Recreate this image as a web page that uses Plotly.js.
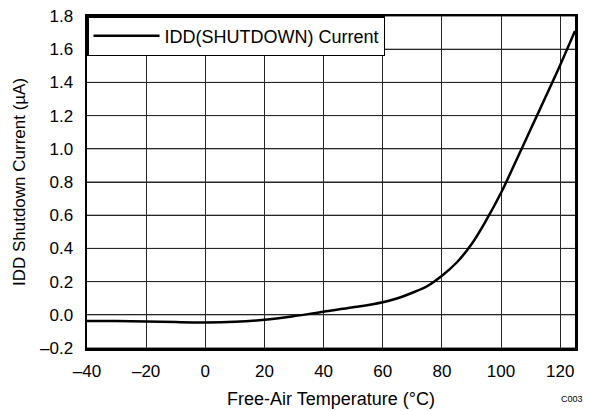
<!DOCTYPE html>
<html>
<head>
<meta charset="utf-8">
<script src="https://cdn.plot.ly/plotly-3.0.1.min.js"></script>
<style>html,body{margin:0;padding:0;background:#fff;}#chart{width:590px;height:411px;}</style>
</head>
<body>
<div id="chart"></div>
<script>
// Data
const temperature = [-40, -30, -20, -10, 0, 10, 20, 30, 40, 50, 60, 65, 70, 75, 80, 85, 90, 95, 100, 105, 110, 115, 120, 125];
const iddShutdown = [-0.037, -0.038, -0.040, -0.044, -0.046, -0.042, -0.030, -0.008, 0.019, 0.045, 0.076, 0.100, 0.133, 0.172, 0.235, 0.315, 0.425, 0.570, 0.735, 0.925, 1.118, 1.310, 1.505, 1.710];
const seriesName = 'IDD(SHUTDOWN) Current';
const xTickVals = [-40, -20, 0, 20, 40, 60, 80, 100, 120];
const xTickText = ['\u201340', '\u201320', '0', '20', '40', '60', '80', '100', '120'];
const yTickVals = [-0.2, 0, 0.2, 0.4, 0.6, 0.8, 1.0, 1.2, 1.4, 1.6, 1.8];
const yTickText = ['\u20130.2', '0.0', '0.2', '0.4', '0.6', '0.8', '1.0', '1.2', '1.4', '1.6', '1.8'];

const font = 'Liberation Sans, Arial, sans-serif';
const gridColor = '#262626';
const trace = {
  x: temperature, y: iddShutdown, name: seriesName, type: 'scatter', mode: 'lines',
  line: {color: '#000', width: 2.5, shape: 'spline', smoothing: 1}
};
// horizontal grid lines at the y tick values, drawn as layout shapes under the data
const yGridShapes = yTickVals.map(function (v) {
  return {type: 'line', xref: 'paper', yref: 'y', x0: 0, x1: 1, y0: v, y1: v, layer: 'below',
          line: {color: gridColor, width: 1}};
});
const layout = {
  width: 590, height: 411,
  margin: {l: 87, r: 15, t: 16, b: 63},
  paper_bgcolor: '#fff', plot_bgcolor: '#fff',
  font: {family: font, color: '#000', size: 17},
  showlegend: true,
  legend: {x: 0, y: 1, xanchor: 'left', yanchor: 'top', bgcolor: '#fff', bordercolor: '#000', borderwidth: 1.5,
           itemwidth: 66, font: {family: font, size: 18, color: '#000'}},
  xaxis: {
    range: [-40, 125], tickmode: 'array', tickvals: xTickVals, ticktext: xTickText,
    showgrid: true, gridcolor: gridColor, gridwidth: 1, zeroline: false,
    showline: true, linecolor: '#000', linewidth: 2.5, mirror: true,
    ticks: '', ticklabelstandoff: 6,
    tickfont: {family: font, size: 17},
    title: {text: 'Free-Air Temperature (\u00B0C)', font: {family: font, size: 18}, standoff: 13}
  },
  yaxis: {
    range: [-0.2, 1.8], tickmode: 'array', tickvals: yTickVals, ticktext: yTickText,
    showgrid: true, gridcolor: gridColor, gridwidth: 1, zeroline: false,
    showline: true, linecolor: '#000', linewidth: 2.5, mirror: true,
    ticks: 'outside', ticklen: 8, tickcolor: 'rgba(0,0,0,0)',
    tickfont: {family: font, size: 17},
    title: {text: 'IDD Shutdown Current (\u00B5A)', font: {family: font, size: 17}, standoff: 10}
  },
  shapes: yGridShapes,
  annotations: [{text: 'C003', xref: 'paper', yref: 'paper', x: 1.02, y: -0.155, xanchor: 'right', yanchor: 'middle',
                 showarrow: false, font: {family: font, size: 9, color: '#000'}}]
};
Plotly.newPlot('chart', [trace], layout, {displayModeBar: false, staticPlot: true});
</script>
</body>
</html>
